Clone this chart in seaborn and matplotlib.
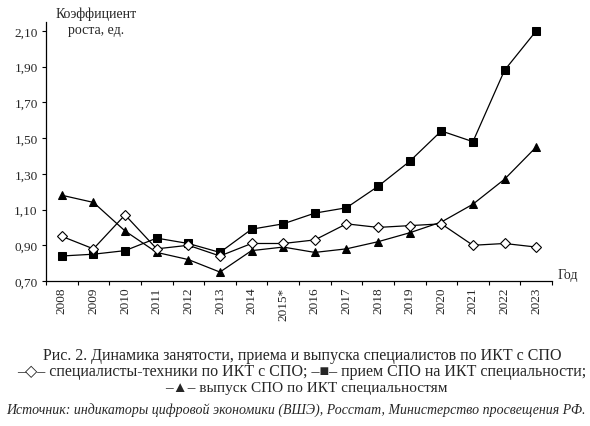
import matplotlib
matplotlib.use("Agg")
import matplotlib.pyplot as plt
import seaborn as sns
import pandas as pd
import numpy as np

years = ["2008", "2009", "2010", "2011", "2012", "2013", "2014", "2015*",
         "2016", "2017", "2018", "2019", "2020", "2021", "2022", "2023"]
technicians = [0.95, 0.88, 1.07, 0.88, 0.90, 0.84, 0.91, 0.91,
               0.93, 1.02, 1.00, 1.01, 1.02, 0.90, 0.91, 0.89]
admission = [0.84, 0.85, 0.87, 0.94, 0.91, 0.86, 0.99, 1.02,
             1.08, 1.11, 1.23, 1.37, 1.54, 1.48, 1.88, 2.10]
graduation = [1.18, 1.14, 0.98, 0.86, 0.82, 0.75, 0.87, 0.89,
              0.86, 0.88, 0.92, 0.97, 1.03, 1.13, 1.27, 1.45]
yticks = [0.70, 0.90, 1.10, 1.30, 1.50, 1.70, 1.90, 2.10]

sns.set_theme(style="white")
plt.rcParams["font.family"] = ["Liberation Serif", "DejaVu Serif"]

df = pd.DataFrame({"pos": np.arange(len(years)), "year": years,
                   "tech": technicians, "adm": admission, "grad": graduation})

fig = plt.figure(figsize=(5.9, 4.27), dpi=100)
ax = fig.add_axes([46 / 590, 1 - 282 / 427, 506 / 590, (282 - 23) / 427])

lw = 0.9
sns.lineplot(data=df, x="pos", y="grad", ax=ax, color="black", linewidth=lw,
             marker="^", markersize=6, markerfacecolor="black",
             markeredgecolor="black", zorder=3)
sns.lineplot(data=df, x="pos", y="adm", ax=ax, color="black", linewidth=lw,
             marker="s", markersize=6, markerfacecolor="black",
             markeredgecolor="black", zorder=3)
sns.lineplot(data=df, x="pos", y="tech", ax=ax, color="black", linewidth=lw,
             marker="D", markersize=5, markerfacecolor="white",
             markeredgecolor="black", markeredgewidth=0.8, zorder=4)

ax.set_xlim(-0.5, len(years) - 0.5)
ax.set_ylim(0.70, 2.15)
ax.set_xlabel("")
ax.set_ylabel("")

ax.set_xticks(np.arange(-0.5, len(years), 1.0))
ax.set_xticklabels([])
ax.set_xticks(np.arange(len(years)), minor=True)
ax.set_xticklabels(years, minor=True, rotation=90, fontsize=9.5)
ax.tick_params(axis="x", which="major", direction="out", length=3,
               width=0.8, color="black", bottom=True)
ax.tick_params(axis="x", which="minor", length=0, pad=4, bottom=True)

ax.set_yticks(yticks)
ax.set_yticklabels([f"{v:.2f}".replace(".", ",") for v in yticks], fontsize=9.5)
ax.tick_params(axis="y", direction="out", length=3, width=0.8,
               color="black", left=True, pad=3)

for s in ["top", "right"]:
    ax.spines[s].set_visible(False)
for s in ["left", "bottom"]:
    ax.spines[s].set_color("black")
    ax.spines[s].set_linewidth(0.9)
ax.grid(False)

fig.text(96 / 590, 1 - 22 / 427, "Коэффициент\nроста, ед.", ha="center",
         va="center", fontsize=10, linespacing=1.3)
fig.text(568 / 590, 1 - 275 / 427, "Год", ha="center", va="center", fontsize=10)

fs = 11.5
fig.text(302 / 590, 1 - 356 / 427,
         "Рис. 2. Динамика занятости, приема и выпуска специалистов по ИКТ с СПО",
         ha="center", va="center", fontsize=fs)
fig.text(302 / 590, 1 - 372 / 427,
         "–◇– специалисты-техники по ИКТ с СПО; –■– прием СПО на ИКТ специальности;",
         ha="center", va="center", fontsize=fs)
fig.text(306 / 590, 1 - 389 / 427,
         "–▲– выпуск СПО по ИКТ специальностям",
         ha="center", va="center", fontsize=11)
fig.text(296 / 590, 1 - 410 / 427,
         "Источник: индикаторы цифровой экономики (ВШЭ), Росстат, Министерство просвещения РФ.",
         ha="center", va="center", fontsize=10, style="italic")

fig.savefig("out.png", dpi=100, facecolor="white")
